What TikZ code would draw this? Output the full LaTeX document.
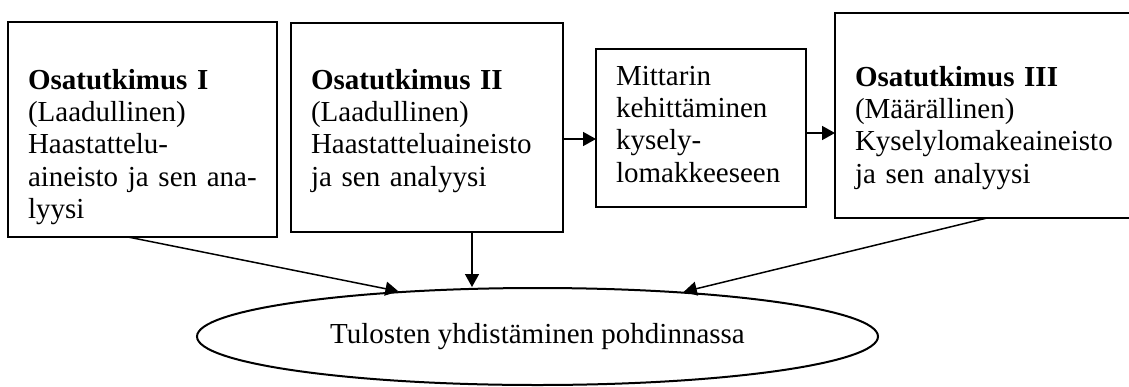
\documentclass[tikz,border=0pt]{standalone}
\usepackage{fontspec}
\setmainfont{Liberation Serif}
\usetikzlibrary{arrows.meta,shapes.geometric}
\hyphenpenalty=10000
\begin{document}
\begin{tikzpicture}[x=0.5pt, y=-0.5pt,
        >={Triangle[length=6.5pt,width=7pt]},
        stage/.style={draw, line width=1pt, anchor=north west, inner xsep=10pt, inner ysep=0pt, outer sep=0pt, align=left, font=\fontsize{14.5}{16.2}\selectfont},
        result/.style={ellipse, draw, line width=1pt, inner sep=0pt, font=\fontsize{14.5}{16.2}\selectfont},
        link/.style={line width=0.75pt}]
        \useasboundingbox (0,0) rectangle (1129,386);

        % Nodes
        \node[stage, text width=114.5pt, text height=33.5pt, text depth=74pt] at (8, 22)  (s1)    {\textbf{Osatutkimus I}\\(Laadullinen)\\Haastattelu-\\aineisto ja sen ana-\\lyysi};
        \node[stage, text width=116pt, text height=33pt, text depth=71.5pt] at (291, 23)  (s2)    {\textbf{Osatutkimus II}\\(Laadullinen)\\Haastatteluaineisto\\ja sen analyysi};
        \node[stage, text width=85pt, text height=18pt, text depth=61pt] at (596, 49)  (mit)    {Mittarin\\kehittäminen\\kysely-\\lomakkeeseen};
        \node[stage, text width=132.5pt, text height=36.5pt, text depth=66pt] at (835, 13)  (s3)    {\textbf{Osatutkimus III}\\(Määrällinen)\\Kyselylomakeaineisto\\ja sen analyysi};
        \node[result, minimum width=340.5pt, minimum height=48.5pt] at (537.5, 336.5)  (res)    {Tulosten yhdistäminen pohdinnassa};

        % Arrows
        \draw[->, link]  (s2.east |- 0,139) -- (mit.west |- 0,139);
        \draw[->, link]  (mit.east |- 0,133) -- (s3.west |- 0,133);
        \draw[->, link]  (s1.south -| 128,0) -- (res.162);
        \draw[->, link]  (s2.south -| 472,0) -- (res.north -| 472,0);
        \draw[->, link]  (s3.south -| 987,0) -- (res.17);

    \end{tikzpicture}
\end{document}
